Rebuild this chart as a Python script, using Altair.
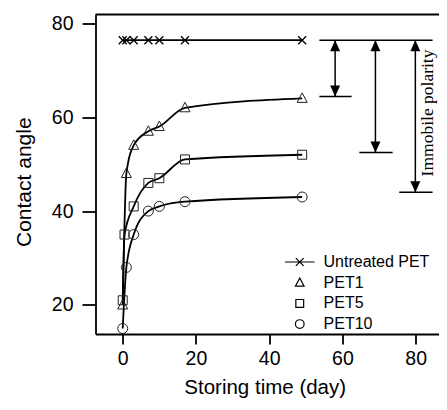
import altair as alt
import pandas as pd

# ---------------- data ----------------
series_names = ["Untreated PET", "PET1", "PET5", "PET10"]

days_untreated = [0, 1, 3, 7, 10, 17, 49]
angle_untreated = [76.4, 76.4, 76.4, 76.4, 76.4, 76.4, 76.4]

days_pet1 = [0, 1, 3, 7, 10, 17, 49]
angle_pet1 = [20, 48, 54, 57, 58, 62, 64]

days_pet5 = [0, 0.5, 3, 7, 10, 17, 49]
angle_pet5 = [21, 35, 41, 46, 47, 51, 52]

days_pet10 = [0, 1, 3, 7, 10, 17, 49]
angle_pet10 = [15, 28, 35, 40, 41, 42, 43]

x_ticks = [0, 20, 40, 60, 80]
y_ticks = [20, 40, 60, 80]

# annotation (brackets / arrows for immobile polarity)
bracket_top_y = 76.4
bracket_top_x = [53.7, 84.6]
arrow_x = [58.0, 69.0, 79.9]
arrow_bottom_y = [64.4, 52.5, 44.0]
bottom_line_x1 = [53.7, 64.6, 75.5]
bottom_line_x2 = [62.5, 73.7, 84.6]
annotation_text = "Immobile polarity"
annotation_x = 83.45
annotation_y = 60.9

# ---------------- tables ----------------
rows = []
for name, ds, vs in [
    ("Untreated PET", days_untreated, angle_untreated),
    ("PET1", days_pet1, angle_pet1),
    ("PET5", days_pet5, angle_pet5),
    ("PET10", days_pet10, angle_pet10),
]:
    for d, v in zip(ds, vs):
        rows.append({"series": name, "day": d, "angle": v})
df = pd.DataFrame(rows)
df_pet = df[df["series"] != "Untreated PET"]
df_untr = df[df["series"] == "Untreated PET"]

hlines = pd.DataFrame({
    "x1": [bracket_top_x[0]] + bottom_line_x1,
    "x2": [bracket_top_x[1]] + bottom_line_x2,
    "y": [bracket_top_y] + arrow_bottom_y,
})
vlines = pd.DataFrame({
    "x": arrow_x,
    "y1": [bracket_top_y] * 3,
    "y2": arrow_bottom_y,
})
heads_up = pd.DataFrame({"x": arrow_x, "y": [bracket_top_y] * 3})
heads_down = pd.DataFrame({"x": arrow_x, "y": arrow_bottom_y})
text_df = pd.DataFrame({"x": [annotation_x], "y": [annotation_y], "t": [annotation_text]})

# ---------------- shapes ----------------
cross_line = "M-1.7,0L1.7,0M-0.45,-0.45L0.45,0.45M-0.45,0.45L0.45,-0.45"
cross_only = "M-0.4,-0.4L0.4,0.4M-0.4,0.4L0.4,-0.4"
triangle = "M0,-0.55L0.5,0.4L-0.5,0.4Z"
square = "M-0.45,-0.45L0.45,-0.45L0.45,0.45L-0.45,0.45Z"
circle = "M0.5,0A0.5,0.5 0 1,1 -0.5,0A0.5,0.5 0 1,1 0.5,0Z"
head_up = "M0,0L0.5,1.1L-0.5,1.1Z"
head_down = "M0,0L0.5,-1.1L-0.5,-1.1Z"

FONT = "Liberation Sans, Arial, Helvetica, sans-serif"

PLOT_W = 343.5
PLOT_H = 319.5

x_scale = alt.Scale(domain=[-7.43, 86.36], nice=False, zero=False)
y_scale = alt.Scale(domain=[13.82, 81.87], nice=False, zero=False)

x_axis = alt.Axis(
    values=x_ticks, title="Storing time (day)", format="d",
    tickSize=10, tickWidth=1.8, tickColor="black",
    domain=True, domainWidth=1.8, domainColor="black", grid=False,
    labelFont=FONT, labelFontSize=19.5, labelColor="black", labelPadding=5,
    titleFont=FONT, titleFontSize=20.5, titleFontWeight="normal", titleColor="black",
    titleX=169.2, titleY=59.5, titleBaseline="alphabetic", titleAlign="center",
)
y_axis = alt.Axis(
    values=y_ticks, title="Contact angle", format="d",
    tickSize=13.5, tickWidth=1.8, tickColor="black",
    domain=True, domainWidth=1.8, domainColor="black", grid=False,
    labelFont=FONT, labelFontSize=19.5, labelColor="black", labelPadding=9,
    titleFont=FONT, titleFontSize=21, titleFontWeight="normal", titleColor="black",
    titleX=-65.5, titleY=167.2, titleAngle=270, titleBaseline="alphabetic",
    titleAlign="center",
)


def X(field):
    return alt.X(f"{field}:Q", scale=x_scale, axis=x_axis)


def Y(field):
    return alt.Y(f"{field}:Q", scale=y_scale, axis=y_axis)


lines = alt.Chart(df).mark_line(
    interpolate="monotone", color="black", strokeWidth=1.8
).encode(x=X("day"), y=Y("angle"), detail="series:N", order="day:Q")

points = alt.Chart(df_pet).mark_point(
    filled=False, size=400, strokeWidth=1, color="#222", opacity=1
).encode(
    x=X("day"), y=Y("angle"),
    shape=alt.Shape(
        "series:N",
        scale=alt.Scale(domain=series_names,
                        range=[cross_line, triangle, square, circle]),
        legend=alt.Legend(
            orient="none", legendX=194.75, legendY=238, title=None,
            symbolSize=300, symbolStrokeWidth=1.2, symbolStrokeColor="black",
            labelFont=FONT, labelFontSize=16, labelColor="black",
            labelOffset=14.3, rowPadding=2.7, padding=0,
        ),
    ),
)

crosses = alt.Chart(df_untr).mark_point(
    shape=cross_only, filled=False, size=400, strokeWidth=1.3, color="black", opacity=1
).encode(x=X("day"), y=Y("angle"))

hrules = alt.Chart(hlines).mark_rule(color="black", strokeWidth=1.5).encode(
    x=X("x1"), x2="x2:Q", y=Y("y")
)
vrules = alt.Chart(vlines).mark_rule(color="black", strokeWidth=1.5).encode(
    x=X("x"), y=Y("y1"), y2="y2:Q"
)
ups = alt.Chart(heads_up).mark_point(
    shape=head_up, filled=True, size=400, color="black", strokeWidth=0, opacity=1
).encode(x=X("x"), y=Y("y"))
downs = alt.Chart(heads_down).mark_point(
    shape=head_down, filled=True, size=400, color="black", strokeWidth=0, opacity=1
).encode(x=X("x"), y=Y("y"))

label = alt.Chart(text_df).mark_text(
    angle=270, font="Liberation Serif, Times New Roman, serif", fontSize=17.5,
    align="center", baseline="middle", color="black"
).encode(x=X("x"), y=Y("y"), text="t:N")

# top edge of the frame (open on the right, as in the original)
top_frame = alt.Chart(pd.DataFrame({"k": [0]})).mark_rule(
    color="black", strokeWidth=1.8
).encode(x=alt.value(0), x2=alt.value(PLOT_W), y=alt.value(0))

chart = alt.layer(
    lines, crosses, points, hrules, vrules, ups, downs, label, top_frame
).properties(
    width=PLOT_W, height=PLOT_H,
    autosize=alt.AutoSizeParams(type="none"),
    padding={"left": 87.5, "top": 6.5, "right": 0, "bottom": 64},
    background="white",
).configure_view(strokeWidth=0)

chart.save("out.html", embed_options={"renderer": "svg", "actions": False})
